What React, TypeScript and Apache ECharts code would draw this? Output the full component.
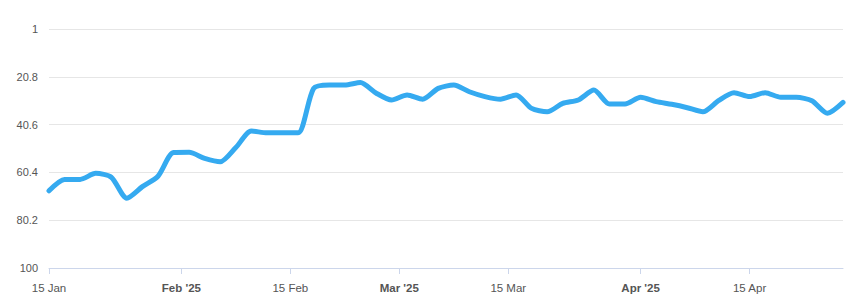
import React, { useEffect, useRef } from "react";
import * as echarts from "echarts";

// Data: one value every two days, from 15 Jan 2025 (day 0) to 27 Apr 2025 (day 102)
const startDate = "2025-01-15";
const dayOffsets = [
  0, 2, 4, 6, 8, 10, 12, 14, 16, 18, 20, 22, 24, 26, 28, 30, 32, 34, 36, 38,
  40, 42, 44, 46, 48, 50, 52, 54, 56, 58, 60, 62, 64, 66, 68, 70, 72, 74, 76,
  78, 80, 82, 84, 86, 88, 90, 92, 94, 96, 98, 100, 102,
];
const values = [
  68.0, 63.3, 63.3, 60.8, 62.4, 71.1, 66.3, 62.0, 52.2, 52.1, 54.6, 56.0, 50.1,
  43.3, 44.0, 44.0, 44.0, 25.6, 24.2, 24.2, 23.2, 27.5, 30.4, 28.3, 30.1, 25.6,
  24.2, 27.0, 29.0, 30.1, 28.3, 33.9, 35.3, 31.8, 30.4, 26.3, 32.1, 32.1, 29.3,
  31.1, 32.2, 33.6, 35.3, 30.7, 27.4, 29.0, 27.4, 29.3, 29.3, 30.7, 35.9, 31.4,
];

const xTickDates = [
  "2025-01-15",
  "2025-02-01",
  "2025-02-15",
  "2025-03-01",
  "2025-03-15",
  "2025-04-01",
  "2025-04-15",
];
const xTickLabels = ["15 Jan", "Feb '25", "15 Feb", "Mar '25", "15 Mar", "Apr '25", "15 Apr"];
const boldTickLabels = ["Feb '25", "Mar '25", "Apr '25"];

const yMin = 1;
const yMax = 100;
const yInterval = 19.8;
const xMaxDate = "2025-04-27";

const DAY = 24 * 3600 * 1000;
const ts = (d: string) => Date.UTC(+d.slice(0, 4), +d.slice(5, 7) - 1, +d.slice(8, 10));

export default function App() {
  const ref = useRef<HTMLDivElement>(null);

  useEffect(() => {
    if (!ref.current) return;
    const chart = echarts.init(ref.current, undefined, { renderer: "svg" });
    const start = ts(startDate);
    const seriesData = dayOffsets.map((d, i) => [start + d * DAY, values[i]]);
    const tickValues = xTickDates.map(ts);
    const labelFor = (v: number) => {
      const idx = tickValues.indexOf(v);
      return idx >= 0 ? xTickLabels[idx] : "";
    };

    chart.setOption({
      animation: false,
      backgroundColor: "#ffffff",
      textStyle: { fontFamily: "Liberation Sans, Arial, sans-serif" },
      grid: { left: 49, right: 9, top: 29, bottom: 32, containLabel: false },
      xAxis: {
        type: "value",
        min: start,
        max: ts(xMaxDate),
        axisLine: { show: true, lineStyle: { color: "#ccd6eb", width: 1 } },
        axisTick: {
          show: true,
          length: 6,
          lineStyle: { color: "#ccd6eb" },
          customValues: tickValues,
        },
        splitLine: { show: false },
        axisLabel: {
          customValues: tickValues,
          margin: 14,
          color: "#555555",
          fontSize: 11.5,
          fontFamily: "Liberation Sans, Arial, sans-serif",
          hideOverlap: false,
          showMinLabel: true,
          showMaxLabel: true,
          formatter: (v: number) => {
            const l = labelFor(v);
            return boldTickLabels.includes(l) ? `{b|${l}}` : l;
          },
          rich: {
            b: {
              fontWeight: "bold",
              color: "#555555",
              fontSize: 11.5,
              fontFamily: "Liberation Sans, Arial, sans-serif",
            },
          },
        },
      },
      yAxis: {
        type: "value",
        inverse: true,
        min: yMin,
        max: yMax,
        interval: yInterval,
        axisLine: { show: false },
        axisTick: { show: false },
        splitLine: { show: true, lineStyle: { color: "#e6e6e6", width: 1 } },
        axisLabel: {
          margin: 11,
          color: "#555555",
          fontSize: 11,
          fontFamily: "Liberation Sans, Arial, sans-serif",
          formatter: (v: number) => String(Math.round(v * 10) / 10),
        },
      },
      series: [
        {
          type: "line",
          data: seriesData,
          smooth: 0.25,
          showSymbol: false,
          symbol: "none",
          lineStyle: { color: "#35aaf0", width: 5, cap: "round", join: "round" },
          z: 3,
        },
      ],
    });

    return () => chart.dispose();
  }, []);

  return (
    <div
      ref={ref}
      style={{ position: "fixed", left: 0, top: 0, width: 852, height: 300, background: "#fff" }}
    />
  );
}
